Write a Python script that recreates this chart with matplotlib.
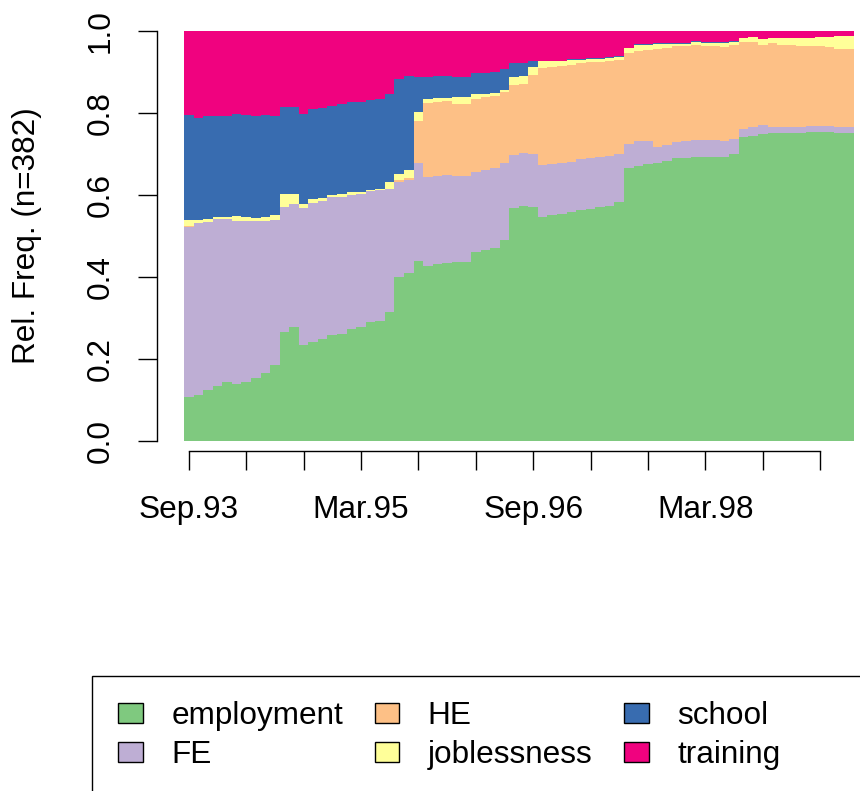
import numpy as np
import matplotlib
matplotlib.use("Agg")
from matplotlib import pyplot as plt
from matplotlib.patches import Patch, Rectangle

states = ['employment', 'FE', 'HE', 'joblessness', 'school', 'training']
colors = ['#7FC97F', '#BEAED4', '#FDC086', '#FFFF99', '#386CB0', '#F0027F']

# cumulative tops, one value per month Sep.93 .. Jun.99
emp_top = [.107, .112, .124, .134, .144, .139, .144, .154, .166, .185,
           .266, .278, .234, .241, .249, .259, .261, .273, .278, .290,
           .293, .315, .400, .410, .439, .427, .432, .434, .437, .437,
           .461, .466, .471, .490, .568, .573, .571, .546, .551, .554,
           .559, .563, .566, .571, .573, .583, .666, .671, .676, .678,
           .683, .690, .690, .693, .693, .693, .693, .700, .741, .744,
           .749, .751, .751, .751, .751, .754, .754, .754, .751, .751]
fe_top = [.522, .532, .534, .541, .541, .537, .537, .537, .537, .539,
          .571, .578, .568, .580, .585, .595, .595, .600, .602, .610,
          .612, .615, .632, .637, .678, .644, .646, .649, .646, .646,
          .656, .661, .666, .678, .698, .702, .700, .673, .676, .678,
          .680, .688, .690, .693, .695, .700, .724, .732, .732, .717,
          .722, .729, .732, .734, .734, .734, .732, .737, .761, .766,
          .771, .766, .766, .766, .766, .768, .768, .768, .766, .766]
he_top = [.525, .532, .534, .541, .541, .537, .537, .537, .537, .539,
          .571, .578, .568, .580, .585, .595, .595, .600, .602, .610,
          .612, .615, .637, .641, .780, .824, .827, .829, .822, .822,
          .834, .839, .841, .851, .868, .871, .893, .910, .912, .915,
          .917, .922, .924, .924, .927, .929, .946, .951, .954, .956,
          .959, .963, .963, .966, .963, .963, .961, .966, .973, .973,
          .966, .971, .966, .966, .963, .963, .963, .961, .956, .956]
job_top = [.539, .539, .541, .546, .546, .549, .546, .544, .546, .551,
           .602, .602, .578, .590, .593, .600, .602, .607, .607, .612,
           .615, .632, .651, .661, .802, .834, .837, .837, .839, .839,
           .846, .846, .849, .856, .888, .890, .912, .927, .927, .927,
           .929, .929, .932, .932, .934, .937, .959, .966, .966, .968,
           .968, .968, .968, .973, .971, .971, .971, .973, .983, .985,
           .980, .983, .983, .983, .983, .983, .985, .985, .988, .988]
school_top = [.795, .788, .793, .793, .793, .798, .795, .793, .795, .793,
              .815, .815, .798, .810, .812, .817, .822, .827, .827, .832,
              .834, .846, .883, .890, .888, .888, .890, .890, .888, .888,
              .898, .898, .900, .907, .922, .922, .927, .927, .927, .927,
              .932, .932, .934, .934, .937, .939, .959, .968, .968, .971,
              .971, .971, .971, .976, .973, .973, .973, .976, .983, .985,
              .980, .983, .983, .983, .983, .983, .985, .985, .988, .988]
train_top = [1.0] * 70

tick_labels = ['Sep.93', '', '', 'Mar.95', '', '', 'Sep.96', '', '',
               'Mar.98', '', '']

tops = np.array([emp_top, fe_top, he_top, job_top, school_top, train_top])
bottoms = np.vstack([np.zeros(tops.shape[1]), tops[:-1]])
x = np.arange(1, tops.shape[1] + 1)

plt.rcParams['font.family'] = ['Liberation Sans', 'DejaVu Sans']
fs = 22.7

fig = plt.figure(figsize=(8.6, 7.91), dpi=100)
ax = fig.add_axes([184 / 860, 1 - 441 / 791, 669.6 / 860, 410 / 791])

for i in range(len(states)):
    ax.bar(x, tops[i] - bottoms[i], bottom=bottoms[i], width=1.0,
           color=colors[i], linewidth=0, align='center')

ax.set_xlim(0.5, 70.5)
ax.set_ylim(0, 1)

for s in ['top', 'right']:
    ax.spines[s].set_visible(False)
ax.spines['left'].set_position(('outward', 19.4))
ax.spines['left'].set_bounds(0, 1)
ax.spines['bottom'].set_position(('outward', 7.2))
ax.spines['bottom'].set_bounds(1, 67)
ax.spines['left'].set_linewidth(1.0)
ax.spines['bottom'].set_linewidth(1.0)

ax.set_yticks([0, 0.2, 0.4, 0.6, 0.8, 1.0])
ax.set_yticklabels(['0.0', '0.2', '0.4', '0.6', '0.8', '1.0'],
                   rotation=90, va='center', fontsize=fs)
ax.set_xticks(np.arange(1, 68, 6))
ax.set_xticklabels(tick_labels, fontsize=fs)
ax.tick_params(axis='both', length=13.7, width=1.0, direction='out')
ax.tick_params(axis='y', pad=16)
ax.tick_params(axis='x', pad=18)

fig.text(27 / 860, 1 - 236 / 791, 'Rel. Freq. (n=382)', rotation=90,
         ha='center', va='center', fontsize=fs)

# legend box, runs off the figure like the original
fig.patches.append(Rectangle((92 / 860, -0.1), 1.0, (791 - 676) / 791 + 0.1,
                             transform=fig.transFigure, fill=False,
                             edgecolor='black', linewidth=1.0))
handles = [Patch(facecolor=c, edgecolor='black', linewidth=1.0) for c in colors]
fig.legend(handles, states, loc='upper left', ncol=3,
           bbox_to_anchor=(118 / 860, 1 - 701 / 791), frameon=False,
           fontsize=fs, borderpad=0, borderaxespad=0, handlelength=0.79,
           handleheight=0.63, handletextpad=0.9, columnspacing=1.0,
           labelspacing=0.29)

fig.savefig('out.png', dpi=100)
